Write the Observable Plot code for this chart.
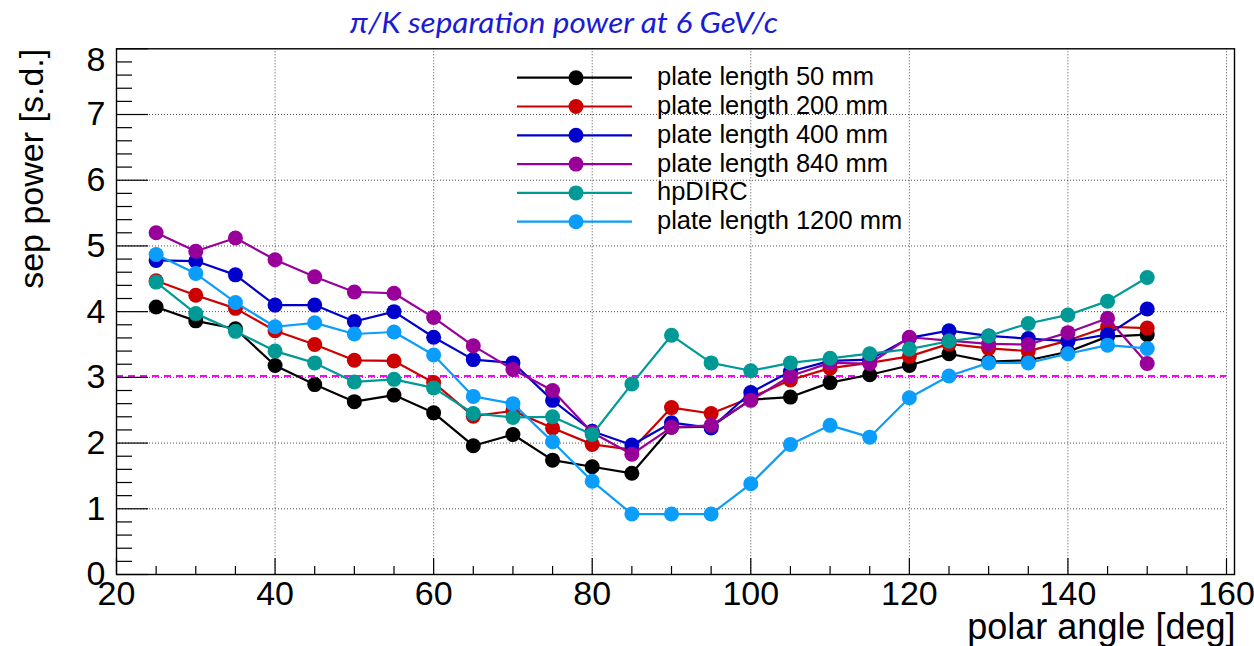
<!DOCTYPE html>
<html>
<head>
<meta charset="utf-8">
<script src="https://cdn.jsdelivr.net/npm/d3@7"></script>
<script src="https://cdn.jsdelivr.net/npm/@observablehq/plot@0.6"></script>
<style>
  body { margin: 0; background: #fff; }
  #wrap { position: relative; width: 1254px; height: 646px; overflow: hidden; background: #fff; }
  #overlay { position: absolute; left: 0; top: 0; pointer-events: none; }
</style>
</head>
<body>
<div id="wrap"></div>
<script>
// ---------- data ----------
const angles = [25, 30, 35, 40, 45, 50, 55, 60, 65, 70, 75, 80, 85, 90, 95, 100, 105, 110, 115, 120, 125, 130, 135, 140, 145, 150];

const plate50   = [4.07, 3.86, 3.74, 3.18, 2.89, 2.63, 2.73, 2.46, 1.96, 2.13, 1.74, 1.64, 1.54, 2.24, 2.25, 2.66, 2.70, 2.92, 3.04, 3.18, 3.36, 3.24, 3.26, 3.39, 3.62, 3.65];
const plate200  = [4.47, 4.25, 4.05, 3.71, 3.50, 3.26, 3.25, 2.92, 2.41, 2.49, 2.23, 1.98, 1.90, 2.54, 2.45, 2.69, 2.96, 3.14, 3.22, 3.32, 3.51, 3.44, 3.40, 3.56, 3.77, 3.75];
const plate400  = [4.78, 4.77, 4.56, 4.10, 4.10, 3.85, 4.00, 3.61, 3.27, 3.22, 2.65, 2.18, 1.97, 2.31, 2.23, 2.77, 3.09, 3.25, 3.27, 3.60, 3.71, 3.63, 3.59, 3.55, 3.65, 4.04];
const plate840  = [5.20, 4.92, 5.12, 4.79, 4.53, 4.30, 4.28, 3.91, 3.48, 3.12, 2.80, 2.16, 1.83, 2.24, 2.27, 2.65, 3.02, 3.22, 3.21, 3.61, 3.56, 3.51, 3.50, 3.68, 3.90, 3.21];
const hpDIRC    = [4.45, 3.97, 3.70, 3.40, 3.22, 2.93, 2.97, 2.84, 2.45, 2.39, 2.40, 2.13, 2.90, 3.64, 3.22, 3.10, 3.22, 3.29, 3.36, 3.43, 3.55, 3.63, 3.82, 3.95, 4.16, 4.52];
const plate1200 = [4.87, 4.58, 4.14, 3.77, 3.83, 3.66, 3.69, 3.34, 2.71, 2.60, 2.02, 1.42, 0.92, 0.92, 0.92, 1.38, 1.98, 2.27, 2.09, 2.69, 3.02, 3.22, 3.22, 3.36, 3.49, 3.44];

const seriesNames  = ["plate length 50 mm", "plate length 200 mm", "plate length 400 mm", "plate length 840 mm", "hpDIRC", "plate length 1200 mm"];
const seriesValues = [plate50, plate200, plate400, plate840, hpDIRC, plate1200];
const seriesColors = ["#000000", "#cc0000", "#0000cc", "#990099", "#009a96", "#0a9dfc"];

const threshold = [3.02];

const xTickValues = [20, 40, 60, 80, 100, 120, 140, 160];
const xMinorValues = [25, 30, 35, 45, 50, 55, 65, 70, 75, 85, 90, 95, 105, 110, 115, 125, 130, 135, 145, 150, 155];
const xGridValues = [40, 60, 80, 100, 120, 140, 160];
const yTickValues = [0, 1, 2, 3, 4, 5, 6, 7, 8];
const yMinorValues = [0.2, 0.4, 0.6, 0.8, 1.2, 1.4, 1.6, 1.8, 2.2, 2.4, 2.6, 2.8, 3.2, 3.4, 3.6, 3.8, 4.2, 4.4, 4.6, 4.8, 5.2, 5.4, 5.6, 5.8, 6.2, 6.4, 6.6, 6.8, 7.2, 7.4, 7.6, 7.8];
const yGridValues = [1, 2, 3, 4, 5, 6, 7];

const titleText = "π/K separation power at 6 GeV/c";
const xLabel = "polar angle [deg]";
const yLabel = "sep power [s.d.]";

// ---------- layout ----------
const W = 1254, H = 646;
const mL = 116, mR = 28, mT = 48.3, mB = 72;
const pw = W - mL - mR, ph = H - mT - mB;
const FONT = "'Liberation Sans', Arial, Helvetica, sans-serif";

const seriesMarks = [];
seriesValues.forEach((vals, k) => {
  const rows = angles.map((a, i) => ({angle: a, value: vals[i]}));
  seriesMarks.push(Plot.line(rows, {x: "angle", y: "value", stroke: seriesColors[k], strokeWidth: 2.2}));
  seriesMarks.push(Plot.dot(rows, {x: "angle", y: "value", r: 7.5, fill: seriesColors[k], stroke: "none"}));
});

const gridStyle = {stroke: "#000", strokeOpacity: 0.7, strokeWidth: 1, strokeDasharray: "1,2"};
const fmt = d => String(d);

const chart = Plot.plot({
  width: W, height: H,
  marginLeft: mL, marginRight: mR, marginTop: mT, marginBottom: mB,
  style: {fontFamily: FONT, color: "#000", background: "transparent", overflow: "visible"},
  x: {domain: [20, 160]},
  y: {domain: [0, 8]},
  marks: [
    Plot.ruleX(xGridValues, gridStyle),
    Plot.ruleY(yGridValues, gridStyle),
    Plot.ruleY(threshold, {stroke: "#ff00ff", strokeWidth: 2, strokeDasharray: "7,5"}),
    Plot.ruleY(yTickValues, {insetRight: pw - 32, stroke: "#000", strokeWidth: 1.2}),
    Plot.ruleY(yMinorValues, {insetRight: pw - 16, stroke: "#000", strokeWidth: 1.2}),
    Plot.ruleX(xTickValues, {insetTop: ph - 16, stroke: "#000", strokeWidth: 1.2}),
    Plot.ruleX(xMinorValues, {insetTop: ph - 8, stroke: "#000", strokeWidth: 1.2}),
    Plot.frame({insetRight: -8, stroke: "#000", strokeWidth: 1.4}),
    ...seriesMarks,
    Plot.axisX(xTickValues, {tickSize: 0, tickPadding: 6, fontSize: 34, label: null, tickFormat: fmt}),
    Plot.axisY(yTickValues.filter(d => d < 8), {tickSize: 0, tickPadding: 11, fontSize: 34, label: null, tickFormat: fmt}),
    Plot.axisY([8], {tickSize: 0, tickPadding: 11, dy: 11, fontSize: 34, label: null, tickFormat: fmt}),
    Plot.text([yLabel], {text: d => d, frameAnchor: "top-left", rotate: -90, textAnchor: "end", dx: -98, dy: 0, fontSize: 34}),
    Plot.text([xLabel], {text: d => d, frameAnchor: "bottom-right", textAnchor: "end", lineAnchor: "bottom", dx: 9, dy: 64, fontSize: 36})
  ]
});

const wrap = document.getElementById("wrap");
wrap.appendChild(chart);

// ---------- overlay: title and legend ----------
const ov = d3.select(wrap).append("svg")
  .attr("id", "overlay").attr("width", W).attr("height", H);

ov.append("text")
  .attr("x", 350).attr("y", 33)
  .attr("textLength", 428).attr("lengthAdjust", "spacingAndGlyphs")
  .attr("font-family", "Lato, 'Open Sans', sans-serif")
  .attr("font-style", "italic")
  .attr("font-size", 28)
  .attr("fill", "#1b1bd6")
  .text(titleText);

const legY0 = 77.7, legStep = 28.8;
seriesNames.forEach((name, i) => {
  const y = legY0 + legStep * i;
  const g = ov.append("g");
  g.append("line").attr("x1", 517).attr("x2", 632).attr("y1", y).attr("y2", y)
    .attr("stroke", seriesColors[i]).attr("stroke-width", 2.2);
  g.append("circle").attr("cx", 576).attr("cy", y).attr("r", 7.5).attr("fill", seriesColors[i]);
  g.append("text").attr("x", 657).attr("y", y + 7.5)
    .attr("font-family", FONT).attr("font-size", 25.5).attr("fill", "#000")
    .text(name);
});
</script>
</body>
</html>
